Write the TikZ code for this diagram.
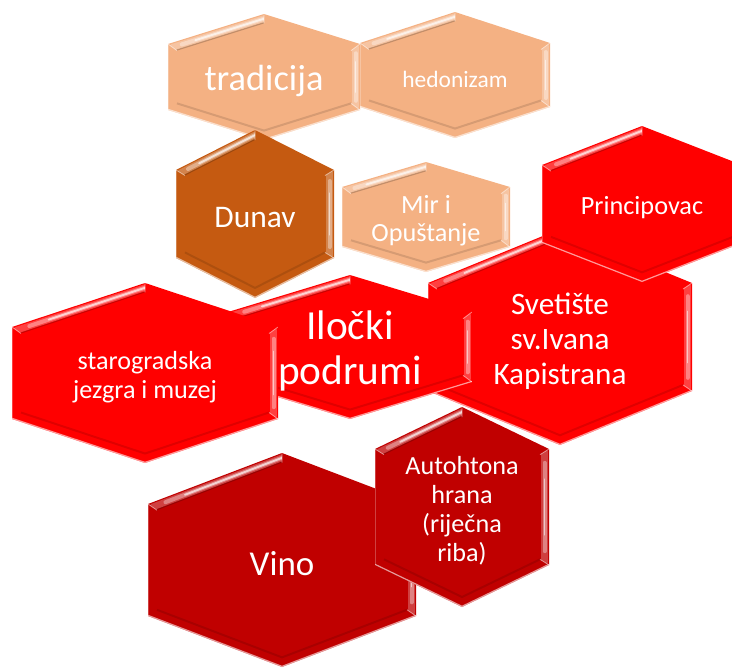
\documentclass[tikz,border=0pt]{standalone}
\usepackage{fontspec}
\setmainfont{Carlito}
\usetikzlibrary{calc}
\definecolor{peach}{HTML}{F4B183}
\definecolor{rust}{HTML}{C55A11}
\definecolor{brightred}{HTML}{FF0000}
\definecolor{darkred}{HTML}{C00000}
\tikzset{
  txt/.style={text=white, align=center, inner sep=0pt, yshift=-3pt},
  streak/.style={white, line cap=round},
}
% #1 name, #2 cx, #3 cy, #4 half width, #5 corner offset, #6 vertex offset, #7 colour, #8 font, #9 text
\newcommand\hexa[9]{%
\begin{scope}[shift={(#2,#3)}]
\pgfmathsetmacro\hxW{#4}%
\pgfmathsetmacro\hxC{#5}%
\pgfmathsetmacro\hxV{#6}%
\pgfmathsetmacro\hxS{(\hxV-\hxC)/\hxW}%
\pgfmathsetmacro\hxR{sqrt(1+\hxS*\hxS)}%
\def\hxD{9}%
\pgfmathsetmacro\hxTi{-\hxV+\hxD*\hxR}%
\pgfmathsetmacro\hxBi{\hxV-\hxD*\hxR}%
\pgfmathsetmacro\hxCi{-\hxC-\hxS*\hxD+\hxD*\hxR}%
\pgfmathsetmacro\hxCn{\hxC+\hxS*\hxD-\hxD*\hxR}%
\pgfmathsetmacro\hxXi{\hxW-\hxD}%
\pgfmathsetmacro\hxXn{-\hxW+\hxD}%
\coordinate (T) at (0,-\hxV);
\coordinate (UR) at (\hxW,-\hxC);
\coordinate (LR) at (\hxW,\hxC);
\coordinate (B) at (0,\hxV);
\coordinate (LL) at (-\hxW,\hxC);
\coordinate (UL) at (-\hxW,-\hxC);
\coordinate (Ti) at (0,\hxTi);
\coordinate (URi) at (\hxXi,\hxCi);
\coordinate (LRi) at (\hxXi,\hxCn);
\coordinate (Bi) at (0,\hxBi);
\coordinate (LLi) at (\hxXn,\hxCn);
\coordinate (ULi) at (\hxXn,\hxCi);
\fill[#7] (T)--(UR)--(LR)--(B)--(LL)--(UL)--cycle;
\begin{scope}
\clip (T)--(UR)--(LR)--(B)--(LL)--(UL)--cycle;
% upper-left bevel
\begin{scope}
\clip (UL)--(T)--(Ti)--(ULi)--cycle;
\draw[black,opacity=.2,line width=2pt] (ULi)--(Ti);
\draw[streak,opacity=.25,line width=5pt] ($(UL)!.5!(ULi)$)--($(T)!.5!(Ti)$);
\draw[streak,opacity=.35,line width=3pt] ($($(UL)!.5!(ULi)$)!.1!($(T)!.5!(Ti)$)$)--($(T)!.5!(Ti)$);
\draw[streak,opacity=.65,line width=1.4pt] ($($(UL)!.5!(ULi)$)!.25!($(T)!.5!(Ti)$)$)--($(T)!.5!(Ti)$);
\end{scope}
% right bevel
\begin{scope}
\clip (UR)--(LR)--(LRi)--(URi)--cycle;
\draw[streak,opacity=.25,line width=5pt] ($(UR)!.5!(URi)$)--($(LR)!.5!(LRi)$);
\draw[streak,opacity=.35,line width=3pt] ($($(UR)!.5!(URi)$)!.1!($(LR)!.5!(LRi)$)$)--($($(UR)!.5!(URi)$)!.9!($(LR)!.5!(LRi)$)$);
\draw[streak,opacity=.55,line width=1.4pt] ($($(UR)!.5!(URi)$)!.25!($(LR)!.5!(LRi)$)$)--($($(UR)!.5!(URi)$)!.75!($(LR)!.5!(LRi)$)$);
\end{scope}
% lower bevels
\draw[white,opacity=.6,line width=1.8pt] (LR)--(B)--(LL);
\draw[black,opacity=.12,line width=1.5pt] (LRi)--(Bi)--(LLi);
\draw[white,opacity=.25,line width=1.2pt] (UL)--(LL);
\draw[white,opacity=.5,line width=.6pt] (T)--(Ti) (UL)--(ULi) (LR)--(LRi) (UR)--(URi);
\end{scope}
\node[txt,font=#8] (#1) at (0,0) {#9};
\end{scope}}
\begin{document}
\begin{tikzpicture}[x=0.75pt,y=-0.75pt]
\useasboundingbox (0,0) rectangle (732,668);
\hexa{tradicija}{264}{77}{96}{33}{63}{peach}{\fontsize{27.3}{30}\selectfont}{tradicija}
\hexa{hedonizam}{455}{75}{95}{32}{63}{peach}{\fontsize{17.6}{20}\selectfont}{hedonizam}
\hexa{dunav}{255}{214}{79}{44}{84}{rust}{\fontsize{23.6}{26}\selectfont}{Dunav}
\hexa{mir}{426}{217}{84}{30}{55}{peach}{\fontsize{19.7}{21}\selectfont}{Mir i\\Opuštanje}
\hexa{svetiste}{560}{337}{132}{54}{108}{brightred}{\fontsize{23.4}{26.3}\selectfont}{Svetište\\sv.Ivana\\Kapistrana}
\hexa{principovac}{642}{204}{100}{39}{78}{brightred}{\fontsize{19.7}{22}\selectfont}{Principovac}
\hexa{ilocki}{350}{347}{122}{35}{72}{brightred}{\fontsize{31}{33.8}\selectfont}{Iločki\\podrumi}
\hexa{starogradska}{145}{373}{133}{46}{90}{brightred}{\fontsize{19.6}{21.8}\selectfont}{starogradska\\jezgra i muzej}
\hexa{vino}{282}{560}{134}{56}{107}{darkred}{\fontsize{26.2}{29}\selectfont}{Vino}
\hexa{autohtona}{462}{507}{87}{58}{100}{darkred}{\fontsize{19.6}{21.8}\selectfont}{Autohtona\\hrana\\(riječna\\riba)}
\end{tikzpicture}
\end{document}
